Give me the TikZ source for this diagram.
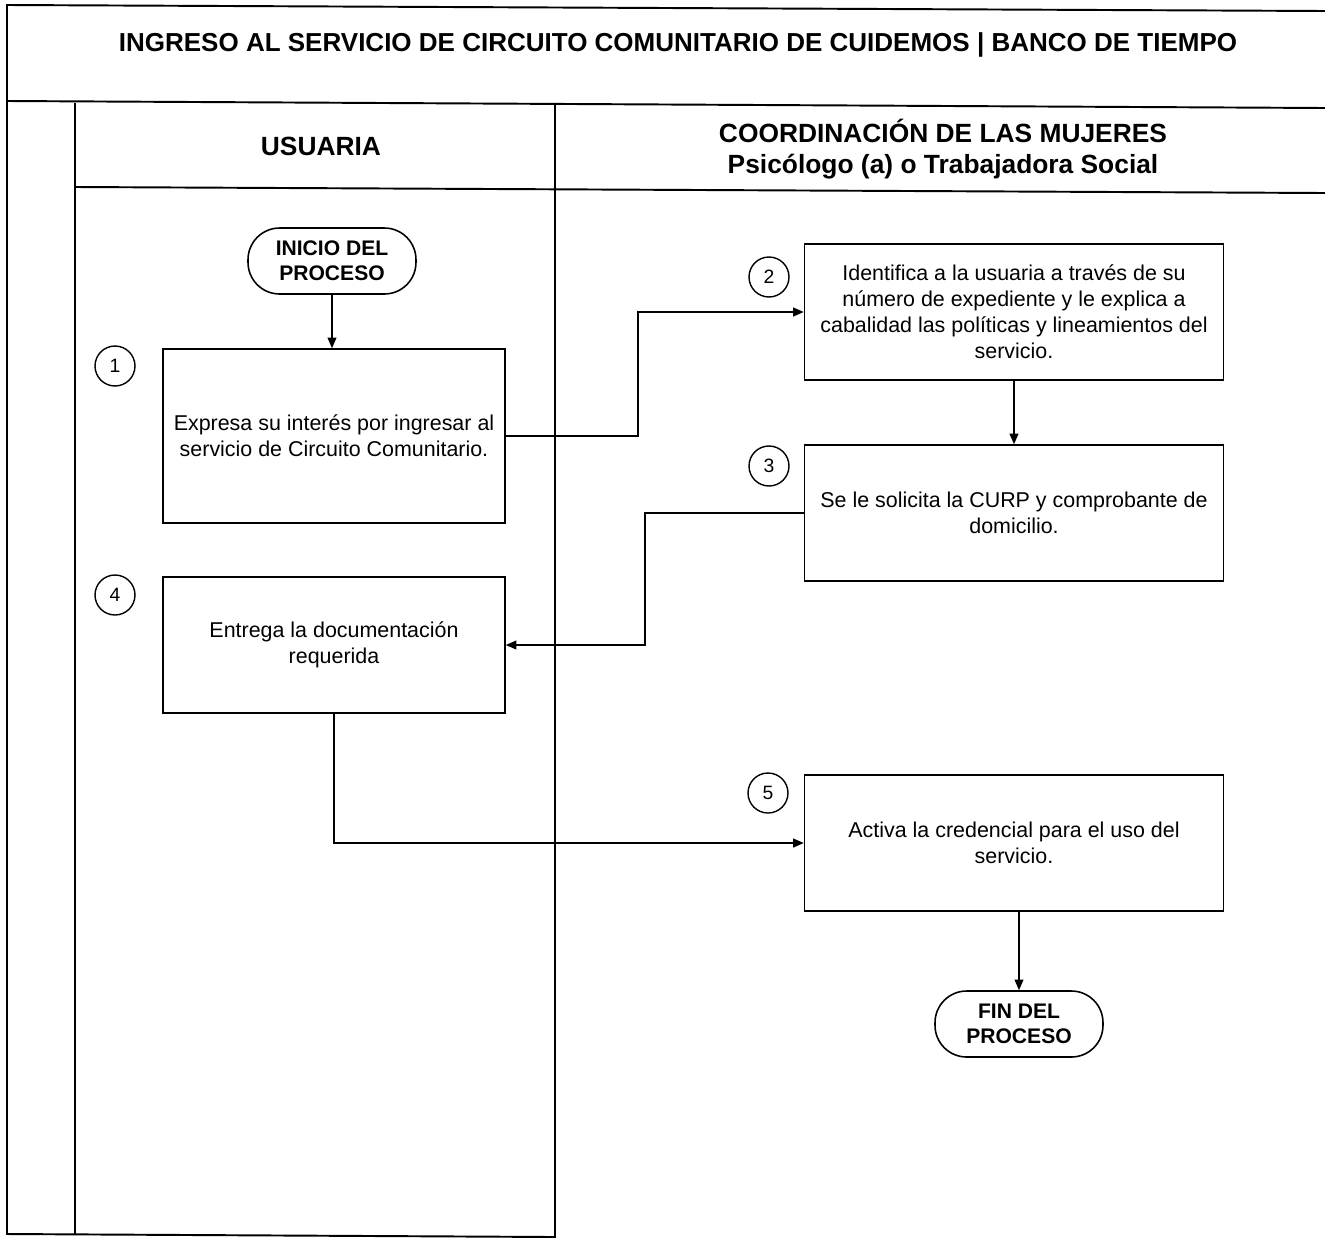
\documentclass[tikz,border=0pt]{standalone}
\usepackage{fontspec}
\setmainfont{Liberation Sans}
\usetikzlibrary{arrows.meta}

\tikzset{
  frame/.style={line width=1.1pt},
  stepbox/.style={draw, line width=0.9pt, minimum width=#1, minimum height=2.72cm,
    align=center, inner sep=3pt, font=\fontsize{12.2}{14.8}\selectfont},
  terminal/.style={draw, line width=0.9pt, rounded corners=18pt, minimum width=3.36cm,
    minimum height=1.32cm, align=center, inner sep=2pt, font=\bfseries\fontsize{12}{14}\selectfont},
  num/.style={draw, circle, line width=0.8pt, minimum size=0.8cm, inner sep=0pt,
    font=\fontsize{11}{13}\selectfont},
  lanehead/.style={align=center, font=\bfseries\fontsize{15}{18}\selectfont},
  arr/.style={line width=0.8pt, -{Triangle[length=6pt, width=5pt]}}
}

\begin{document}
\begin{tikzpicture}[x=0.02cm, y=-0.02cm]
  \useasboundingbox (0,0) rectangle (1325,1238);

  % Outer frame and lanes
  \draw[frame] (1325,11) -- (7,5) -- (7,1234) -- (555,1237);
  \draw[frame] (7,101) -- (1325,108);
  \draw[frame] (75,187) -- (1325,193);
  \draw[frame] (75,103) -- (75,1235);
  \draw[frame] (555,104) -- (555,1238);

  % Title and lane headers
  \node[font=\bfseries\fontsize{14.8}{17}\selectfont] (title) at (678,45)
    {INGRESO AL SERVICIO DE CIRCUITO COMUNITARIO DE CUIDEMOS | BANCO DE TIEMPO};
  \node[lanehead] (usuaria) at (321,146) {USUARIA};
  \node[lanehead] (coord) at (943,149)
    {COORDINACIÓN DE LAS MUJERES\\Psicólogo (a) o Trabajadora Social};

  % Start / end
  \node[terminal] (inicio) at (332,261) {INICIO DEL\\PROCESO};
  \node[terminal] (fin) at (1019,1024) {FIN DEL\\PROCESO};

  % Process steps
  \node[stepbox=6.84cm, minimum height=3.48cm] (b1) at (334,436)
    {Expresa su interés por ingresar al\\servicio de Circuito Comunitario.};
  \node[stepbox=8.38cm] (b2) at (1014,312)
    {Identifica a la usuaria a través de su\\número de expediente y le explica a\\cabalidad las políticas y lineamientos del\\servicio.};
  \node[stepbox=8.38cm] (b3) at (1014,513)
    {Se le solicita la CURP y comprobante de\\domicilio.};
  \node[stepbox=6.84cm] (b4) at (334,645)
    {Entrega la documentación\\requerida};
  \node[stepbox=8.38cm] (b5) at (1014,843)
    {Activa la credencial para el uso del\\servicio.};

  % Step numbers
  \node[num] (n1) at (115,366) {1};
  \node[num] (n2) at (769,277) {2};
  \node[num] (n3) at (769,466) {3};
  \node[num] (n4) at (115,595) {4};
  \node[num] (n5) at (768,793) {5};

  % Connectors
  \coordinate (j1) at (638,0);
  \coordinate (j2) at (645,0);
  \draw[arr] (inicio.south) -- (b1.north -| inicio.south);
  \draw[arr] (b1.east) -- (b1.east -| j1) |- (b2.west);
  \draw[arr] (b2.south) -- (b3.north);
  \draw[arr] (b3.west) -- (b3.west -| j2) |- (b4.east);
  \draw[arr] (b4.south) |- (b5.west);
  \draw[arr] (b5.south -| fin.north) -- (fin.north);
\end{tikzpicture}
\end{document}
